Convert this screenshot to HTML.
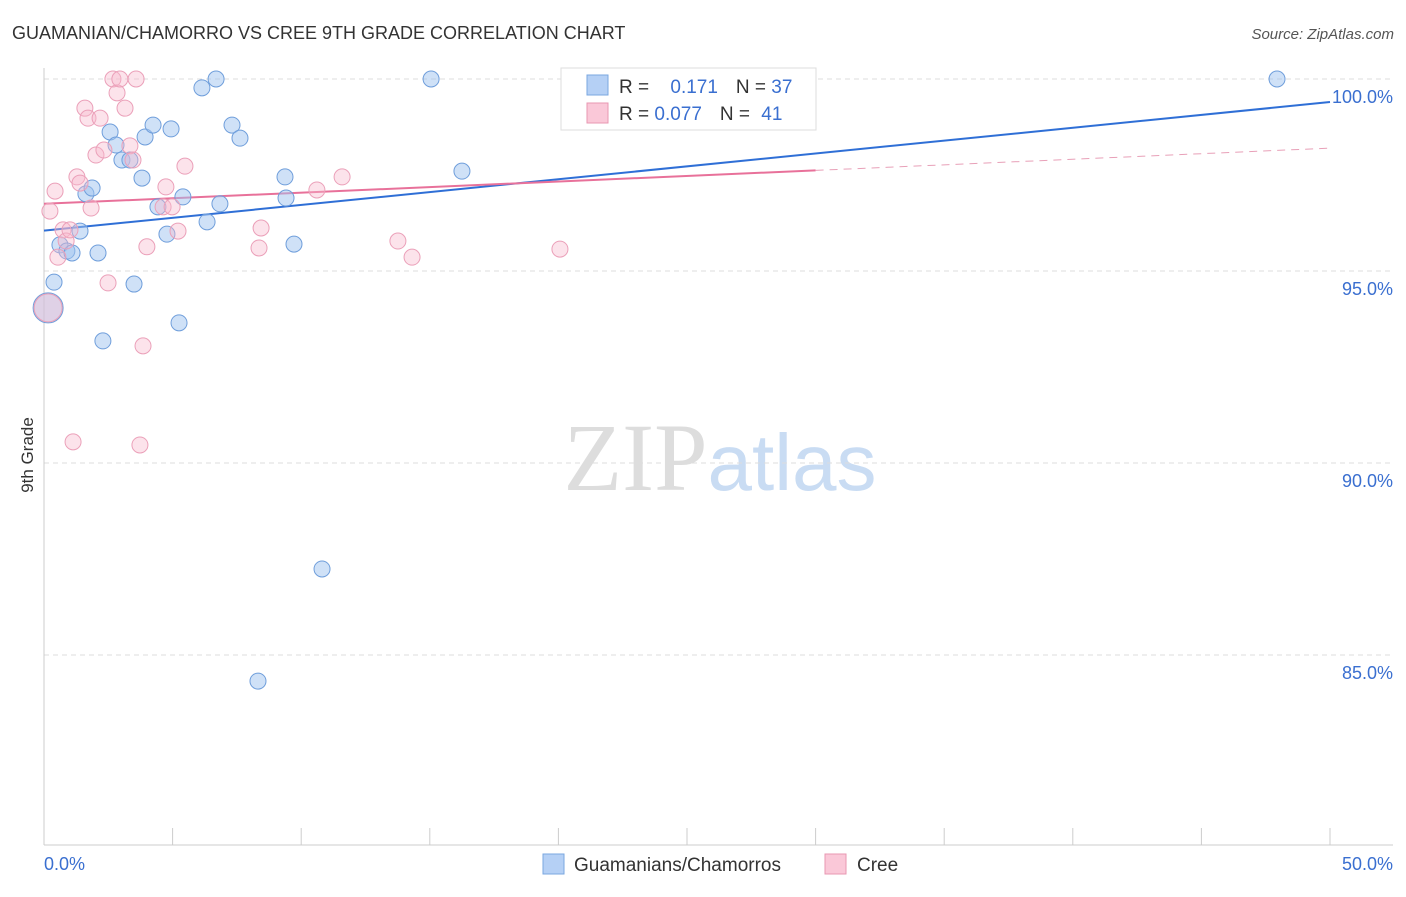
<!DOCTYPE html>
<html><head><meta charset="utf-8"><style>
body{margin:0;background:#fff;font-family:"Liberation Sans",sans-serif;}
</style></head><body>
<svg id="chart" width="1406" height="892" xmlns="http://www.w3.org/2000/svg" font-family="Liberation Sans, sans-serif">
<text x="12" y="39" font-size="18" fill="#333">GUAMANIAN/CHAMORRO VS CREE 9TH GRADE CORRELATION CHART</text>
<text x="1394" y="39" font-size="15" fill="#555" text-anchor="end" font-style="italic">Source: ZipAtlas.com</text>
<text x="720" y="490" font-size="96" text-anchor="middle"><tspan fill="#ddd" font-family="Liberation Serif, serif">ZIP</tspan><tspan fill="#c9dcf3" font-size="80">atlas</tspan></text>
<text transform="translate(33,455) rotate(-90)" font-size="17" fill="#333" text-anchor="middle">9th Grade</text>
<g id="grid"></g><g id="axes"></g><g id="trends"></g><g id="pts"></g>
<g>
<rect x="561" y="68" width="255" height="62" fill="#fff" stroke="#ddd"/>
<rect x="587" y="75" width="21" height="20" fill="#b5d0f5" stroke="#7aa7e0"/>
<rect x="587" y="103" width="21" height="20" fill="#fac8d8" stroke="#e897b2"/>
<text x="619" y="93" font-size="19" fill="#333">R = <tspan fill="#3a6fd0" dx="16">0.171</tspan><tspan fill="#333" dx="18">N = </tspan><tspan fill="#3a6fd0">37</tspan></text>
<text x="619" y="120" font-size="19" fill="#333">R = <tspan fill="#3a6fd0">0.077</tspan><tspan fill="#333" dx="18">N = </tspan><tspan fill="#3a6fd0" dx="6">41</tspan></text>
</g>
<g>
<rect x="543" y="854" width="21" height="20" fill="#b5d0f5" stroke="#7aa7e0"/>
<text x="574" y="871" font-size="19" fill="#333">Guamanians/Chamorros</text>
<rect x="825" y="854" width="21" height="20" fill="#fac8d8" stroke="#e897b2"/>
<text x="857" y="871" font-size="19" fill="#333">Cree</text>
</g>
</svg>
<script>
const yTicks=[100,95,90,85];
const yTickLabels=["100.0%","95.0%","90.0%","85.0%"];
const xTicks=[0,5,10,15,20,25,30,35,40,45,50];
const blueX=[0.39,0.16,0.62,0.89,1.09,1.40,1.63,1.87,2.10,2.29,2.57,2.80,3.03,3.34,3.50,3.81,3.93,4.24,4.43,4.78,4.94,5.25,5.40,6.14,6.34,6.69,6.84,7.31,7.62,8.32,9.37,9.41,9.72,10.81,15.05,16.25,47.94];
const blueY=[94.71,94.04,95.68,95.52,95.47,96.04,97.01,97.16,95.47,93.18,98.62,98.28,97.89,97.89,94.66,97.42,98.49,98.80,96.67,95.96,98.70,93.65,96.93,99.77,96.28,100,96.75,98.80,98.46,84.32,97.45,96.90,95.70,87.24,100,97.60,100];
const pinkX=[0.16,0.23,0.43,0.54,0.74,0.86,1.01,1.13,1.28,1.40,1.59,1.71,1.83,2.02,2.18,2.33,2.49,2.68,2.84,2.95,3.15,3.34,3.46,3.58,3.73,3.85,4.00,4.63,4.74,4.98,5.21,5.48,8.36,8.44,10.61,11.59,13.76,14.31,20.06,28.85];
const pinkY=[94.04,96.56,97.08,95.36,96.07,95.78,96.07,90.55,97.45,97.29,99.24,98.98,96.64,98.02,98.98,98.15,94.69,100,99.64,100,99.24,98.26,97.89,100,90.47,93.05,95.63,96.67,97.19,96.67,96.04,97.73,95.60,96.12,97.11,97.45,95.78,95.36,95.57,100];
const blueTrend=[96.05,99.4];
const pinkTrend=[96.75,98.2];
const X0=44,X1=1330,NS="http://www.w3.org/2000/svg";
const xs=v=>X0+(X1-X0)*v/50;
const ys=v=>79+(100-v)*38.4;
function mk(t,a,p){const e=document.createElementNS(NS,t);for(const k in a)e.setAttribute(k,a[k]);document.getElementById(p).appendChild(e);return e;}
yTicks.forEach((t,i)=>{
 const l=mk('line',{x1:44,x2:1393,y1:ys(t),y2:ys(t),stroke:'#ddd','stroke-dasharray':'5,4'},'grid');
 
 
 const tx=mk('text',{x:1393,y:ys(t)+24,'font-size':18,fill:'#3a6fd0','text-anchor':'end'},'axes');
 tx.textContent=yTickLabels[i];
 
 
});
mk('line',{x1:44,x2:44,y1:68,y2:845,stroke:'#ccc'},'axes');
mk('line',{x1:44,x2:1393,y1:845,y2:845,stroke:'#ccc'},'axes');
xTicks.forEach(t=>{const l=mk('line',{x1:xs(t),x2:xs(t),y1:828,y2:845,stroke:'#ccc'},'axes');
 
 });
let a=mk('text',{x:44,y:870,'font-size':18,fill:'#3a6fd0'},'axes');a.textContent=xTicks[0].toFixed(1)+'%';


a=mk('text',{x:1393,y:870,'font-size':18,fill:'#3a6fd0','text-anchor':'end'},'axes');a.textContent=xTicks[10].toFixed(1)+'%';


let tl=mk('line',{x1:xs(0),y1:ys(blueTrend[0]),x2:xs(50),y2:ys(blueTrend[1]),stroke:'#2f6fd6','stroke-width':2},'trends');


const pAt=x=>pinkTrend[0]+(pinkTrend[1]-pinkTrend[0])*x/50;
tl=mk('line',{x1:xs(0),y1:ys(pAt(0)),x2:xs(30),y2:ys(pAt(30)),stroke:'#e8719a','stroke-width':2},'trends');


tl=mk('line',{x1:xs(30),y1:ys(pAt(30)),x2:xs(50),y2:ys(pAt(50)),stroke:'#e8a0b8','stroke-width':1,'stroke-dasharray':'8,6'},'trends');


blueX.forEach((x,i)=>{const c=mk('circle',{cx:xs(x),cy:ys(blueY[i]),r:i==1?15:8,fill:'rgba(160,196,240,0.5)',stroke:'#6f9edb','stroke-width':1},'pts');
 
 });
pinkX.forEach((x,i)=>{const c=mk('circle',{cx:xs(x),cy:ys(pinkY[i]),r:i==0?14:8,fill:'rgba(247,184,204,0.4)',stroke:'#eba0b9','stroke-width':1},'pts');
 
 });
</script>
</body></html>
